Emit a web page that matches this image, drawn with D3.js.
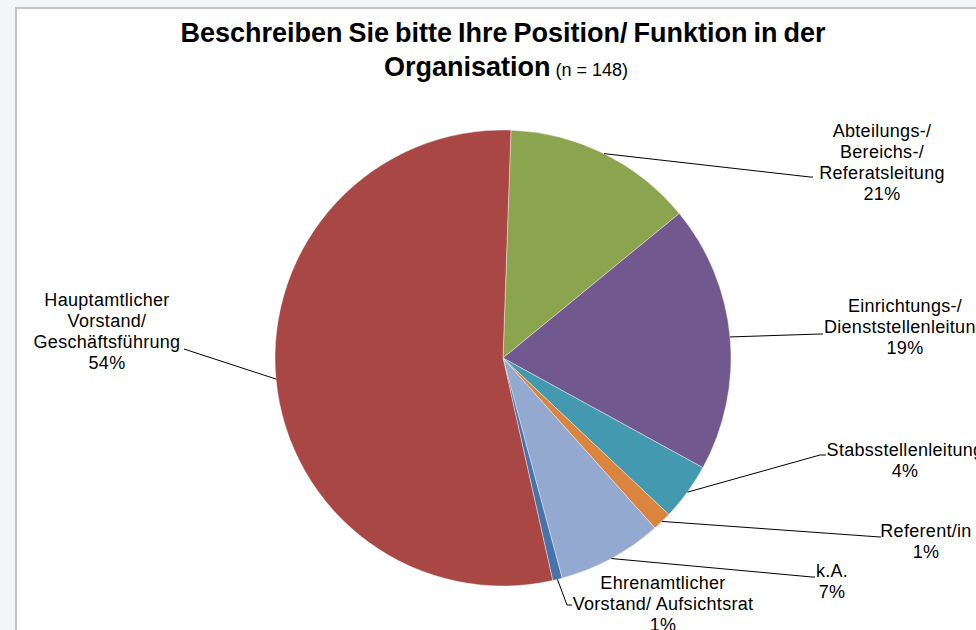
<!DOCTYPE html>
<html>
<head>
<meta charset="utf-8">
<script src="https://cdn.jsdelivr.net/npm/d3@7/dist/d3.min.js"></script>
<style>
  body { margin: 0; background: #f4f5f7; }
  svg { display: block; }
  text { font-family: "Liberation Sans", Arial, sans-serif; fill: #000; }
</style>
</head>
<body>
<svg id="chart" width="976" height="630"></svg>
<script>
// data, clockwise from the top
var categories = ["Abteilungs-/ Bereichs-/ Referatsleitung", "Einrichtungs-/ Dienststellenleitung",
    "Stabsstellenleitung", "Referent/in", "k.A.", "Ehrenamtlicher Vorstand/ Aufsichtsrat",
    "Hauptamtlicher Vorstand/ Geschäftsführung"]
var counts = [20, 28, 6, 2, 11, 1, 80]
var pctLabels = ["21%", "19%", "4%", "1%", "7%", "1%", "54%"]
var labelLines = [
    ["Abteilungs-/", "Bereichs-/", "Referatsleitung"],
    ["Einrichtungs-/", "Dienststellenleitung"],
    ["Stabsstellenleitung"],
    ["Referent/in"],
    ["k.A."],
    ["Ehrenamtlicher", "Vorstand/ Aufsichtsrat"],
    ["Hauptamtlicher", "Vorstand/", "Geschäftsführung"]
]
var colors = ["#8ba54f", "#71598f", "#4399b0", "#db843d", "#93a9cf", "#4673a9", "#a84743"]

// label placement: text centre x, first baseline y, leader bend (lx, ly), leader end x
var labelPos = [
    { x: 882, y: 137, lx: 810, ly: 177, ex: 813 },
    { x: 905, y: 312, lx: 820, ly: 334, ex: 823 },
    { x: 905, y: 456, lx: 820, ly: 455, ex: 826 },
    { x: 926, y: 537, lx: 880, ly: 537, ex: 881 },
    { x: 832, y: 577, lx: 812, ly: 577, ex: 815 },
    { x: 663, y: 589, lx: 567, ly: 605, ex: 572 },
    { x: 107, y: 306, lx: 184, ly: 349, ex: 184 }
]

var width = 976
var height = 630
var cx = 503
var cy = 358
var radius = 228
var startDeg = 2
var lineH = 21

var svg = d3.select('#chart')

// chart area frame
svg.append('rect')
    .attr('x', 16).attr('y', 8)
    .attr('width', width).attr('height', height)
    .attr('fill', '#fff')
    .attr('stroke', '#c4c4c4')
    .attr('stroke-width', 2)

// title
var title = svg.append('g')
title.append('text')
    .attr('x', cx).attr('y', 42)
    .attr('text-anchor', 'middle')
    .style('font-size', '27px').style('font-weight', 'bold')
    .style('word-spacing', '-1.5px')
    .text('Beschreiben Sie bitte Ihre Position/ Funktion in der')
var t2 = title.append('text')
    .attr('x', cx + 3).attr('y', 76)
    .attr('text-anchor', 'middle')
t2.append('tspan').style('font-size', '27px').style('font-weight', 'bold').text('Organisation')
t2.append('tspan').style('font-size', '18px').text(' (n = 148)')

var pie = d3.pie()
    .sort(null)
    .value(d => d)
    .startAngle(startDeg * Math.PI / 180)
    .endAngle(startDeg * Math.PI / 180 + 2 * Math.PI)

var arc = d3.arc().innerRadius(0).outerRadius(radius)
var arcs = pie(counts)

var g = svg.append('g').attr('transform', 'translate(' + cx + ',' + cy + ')')

g.selectAll('path.slice')
    .data(arcs)
    .enter()
    .append('path')
    .attr('class', 'slice')
    .attr('d', arc)
    .attr('fill', (d, i) => colors[i])
    .attr('stroke', '#fff')
    .attr('stroke-width', 0.4)

// leader lines
g.selectAll('path.leader')
    .data(arcs)
    .enter()
    .append('path')
    .attr('class', 'leader')
    .attr('fill', 'none')
    .attr('stroke', '#000')
    .attr('stroke-width', 1)
    .attr('d', (d, i) => {
        var a = (d.startAngle + d.endAngle) / 2
        var p = labelPos[i]
        var sx = Math.sin(a) * radius
        var sy = -Math.cos(a) * radius
        return 'M' + sx + ',' + sy + 'L' + (p.lx - cx) + ',' + (p.ly - cy) + 'L' + (p.ex - cx) + ',' + (p.ly - cy)
    })

// labels
var labels = svg.selectAll('text.lbl')
    .data(arcs)
    .enter()
    .append('text')
    .attr('class', 'lbl')
    .attr('text-anchor', 'middle')
    .style('font-size', '18px')
    .style('letter-spacing', '0.3px')

labels.each(function(d, i) {
    var p = labelPos[i]
    var lines = labelLines[i].concat([pctLabels[i]])
    d3.select(this).selectAll('tspan')
        .data(lines)
        .enter()
        .append('tspan')
        .attr('x', p.x)
        .attr('y', (l, j) => p.y + j * lineH)
        .text(l => l)
})
</script>
</body>
</html>
